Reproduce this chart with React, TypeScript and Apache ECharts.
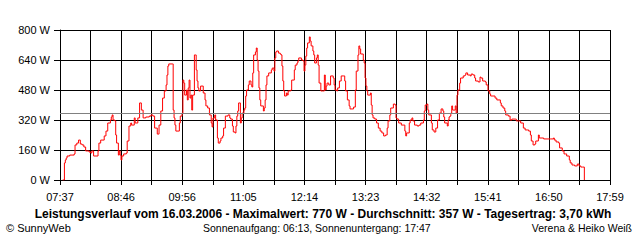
import React, { useEffect, useRef } from "react";
import * as echarts from "echarts";

// Minutes after 07:37
const minutesAfterStart = [
  3, 5, 6, 7, 8, 11, 16, 17, 19, 21, 23, 25, 27, 29, 33, 35, 36, 38, 42, 43,
  44, 46, 50, 52, 54, 57, 58, 59, 60, 62, 63, 64, 66, 67, 68, 69, 70, 72, 75, 76,
  78, 80, 81, 84, 85, 86, 88, 90, 92, 94, 97, 101, 103, 105, 107, 110, 112, 114, 116, 118,
  120, 121, 122, 123, 127, 128, 129, 130, 131, 135, 136, 138, 139, 140, 141, 143, 144, 145, 146, 147,
  148, 149, 150, 152, 153, 154, 155, 156, 157, 159, 162, 164, 165, 167, 169, 171, 172, 173, 175, 176,
  178, 179, 181, 182, 184, 185, 187, 190, 192, 193, 195, 196, 198, 199, 200, 201, 202, 204, 205, 206,
  208, 209, 210, 211, 213, 214, 216, 217, 218, 219, 221, 222, 223, 224, 225, 226, 227, 230, 231, 232,
  233, 234, 236, 239, 240, 242, 243, 244, 245, 247, 249, 250, 251, 252, 253, 254, 256, 257, 258, 260,
  261, 262, 265, 266, 268, 269, 270, 273, 275, 276, 277, 278, 279, 280, 282, 283, 284, 286, 287, 288,
  290, 291, 292, 293, 295, 297, 299, 300, 301, 302, 304, 306, 309, 310, 311, 313, 314, 316, 318, 321,
  322, 323, 325, 327, 328, 332, 334, 335, 337, 338, 339, 340, 343, 344, 345, 346, 347, 348, 351, 352,
  353, 354, 356, 358, 360, 362, 364, 366, 368, 370, 371, 373, 374, 377, 379, 380, 381, 383, 386, 388,
  390, 391, 392, 395, 396, 398, 399, 401, 404, 406, 408, 411, 412, 413, 415, 416, 417, 420, 421, 423,
  425, 427, 429, 431, 433, 434, 435, 438, 439, 440, 441, 442, 443, 444, 447, 448, 449, 450, 452, 453,
  456, 458, 459, 461, 464, 465, 467, 469, 470, 473, 475, 476, 478, 481, 482, 484, 486, 487, 492, 494,
  498, 499, 501, 503, 504, 507, 509, 511, 515, 516, 520, 521, 524, 526, 529, 530, 532, 533, 535, 537,
  538, 541, 542, 544, 547, 553, 555, 558, 559, 561, 564, 565, 568, 570, 572, 573, 576, 577, 579, 581,
  582, 585, 587, 589, 591, 593,
];

const watts = [
  0, 91, 107, 117, 128, 133, 139, 187, 197, 213, 192, 187, 176, 155, 149, 144, 155, 128, 128, 155,
  197, 213, 235, 261, 304, 320, 336, 347, 320, 315, 240, 197, 133, 155, 133, 107, 128, 139, 144, 208,
  288, 304, 293, 331, 304, 304, 331, 411, 373, 331, 336, 341, 347, 341, 277, 245, 293, 368, 437, 475,
  507, 560, 608, 619, 619, 373, 331, 293, 261, 304, 341, 357, 533, 517, 453, 480, 427, 491, 533, 437,
  453, 373, 453, 667, 667, 587, 528, 491, 475, 501, 464, 427, 395, 384, 347, 304, 283, 331, 347, 320,
  224, 197, 208, 224, 235, 277, 341, 347, 331, 325, 288, 256, 251, 288, 341, 368, 411, 304, 331, 357,
  373, 384, 448, 480, 507, 528, 507, 496, 571, 667, 683, 704, 640, 581, 491, 427, 395, 368, 384, 427,
  507, 555, 571, 587, 597, 581, 651, 683, 688, 677, 672, 667, 608, 528, 475, 448, 464, 453, 475, 475,
  480, 533, 587, 613, 624, 635, 651, 640, 635, 581, 613, 661, 704, 731, 763, 741, 715, 688, 667, 624,
  651, 667, 613, 517, 475, 475, 560, 480, 501, 517, 507, 555, 544, 507, 480, 475, 491, 528, 555, 555,
  528, 475, 427, 395, 379, 389, 480, 581, 667, 715, 699, 672, 640, 624, 544, 501, 475, 453, 464, 400,
  347, 331, 325, 304, 277, 261, 251, 235, 240, 277, 315, 347, 384, 405, 400, 331, 325, 304, 293, 293,
  261, 235, 251, 304, 320, 331, 315, 293, 288, 293, 304, 320, 368, 400, 405, 373, 347, 304, 267, 256,
  277, 320, 357, 379, 368, 336, 304, 288, 320, 336, 341, 357, 395, 373, 395, 357, 453, 480, 517, 544,
  555, 560, 571, 560, 555, 565, 560, 544, 528, 523, 549, 544, 528, 523, 507, 475, 459, 448, 437, 427,
  411, 395, 384, 368, 347, 341, 320, 325, 325, 315, 315, 304, 277, 267, 267, 261, 240, 208, 187, 192,
  208, 240, 224, 224, 219, 219, 219, 224, 213, 203, 197, 171, 155, 139, 139, 128, 107, 91, 80, 80,
  75, 85, 75, 69, 69, 0,
];

const timeLabels = ["07:37", "08:46", "09:56", "11:05", "12:14", "13:23", "14:32", "15:41", "16:50", "17:59"];
const yTicks = [0, 160, 320, 480, 640, 800];
const averageW = [357];
const spanMinutes = 622;

const titleText =
  "Leistungsverlauf vom 16.03.2006 - Maximalwert: 770 W - Durchschnitt: 357 W - Tagesertrag: 3,70 kWh";
const footerLeft = "© SunnyWeb";
const footerMid = "Sonnenaufgang: 06:13, Sonnenuntergang: 17:47";
const footerRight = "Verena & Heiko Weiß";

const FONT = "'Liberation Sans', Arial, sans-serif";

export default function App() {
  const ref = useRef<HTMLDivElement>(null);
  useEffect(() => {
    document.body.style.margin = "0";
    if (!ref.current) return;
    const chart = echarts.init(ref.current, null, { renderer: "svg" });
    const step = spanMinutes / ((timeLabels.length - 1) * 2);
    const data = minutesAfterStart.map((m, i) => [m, watts[i]]);
    chart.setOption({
      animation: false,
      backgroundColor: "#ffffff",
      grid: { left: 60, right: 30, top: 30, bottom: 60, containLabel: false },
      xAxis: {
        type: "value",
        min: 0,
        max: spanMinutes,
        interval: step,
        axisLine: { show: true, lineStyle: { color: "#000", width: 1 } },
        axisTick: { show: true, length: 5, lineStyle: { color: "#000", width: 1 } },
        splitLine: { show: true, lineStyle: { color: "#000", width: 1 } },
        axisLabel: {
          color: "#000",
          fontFamily: FONT,
          fontSize: 11,
          margin: 11,
          showMinLabel: true,
          showMaxLabel: true,
          formatter: (v: number) => {
            const idx = Math.round(v / step);
            return idx % 2 === 0 ? timeLabels[idx / 2] ?? "" : "";
          },
        },
      },
      yAxis: {
        type: "value",
        min: yTicks[0],
        max: yTicks[yTicks.length - 1],
        interval: yTicks[1] - yTicks[0],
        axisLine: { show: true, lineStyle: { color: "#000", width: 1 } },
        axisTick: { show: true, length: 6, lineStyle: { color: "#000", width: 1 } },
        splitLine: { show: true, lineStyle: { color: "#000", width: 1 } },
        axisLabel: {
          color: "#000",
          fontFamily: FONT,
          fontSize: 11,
          margin: 10,
          formatter: (v: number) => `${v} W`,
        },
      },
      series: [
        {
          type: "line",
          data,
          step: "end",
          symbol: "none",
          lineStyle: { color: "#ff0000", width: 1 },
          z: 3,
          markLine: {
            silent: true,
            symbol: "none",
            label: { show: false },
            lineStyle: { color: "#808080", width: 1, type: "solid" },
            data: averageW.map((v) => ({ yAxis: v })),
          },
        },
      ],
      graphic: [
        {
          type: "text",
          x: 323,
          y: 214,
          style: {
            text: titleText,
            fill: "#000",
            font: `bold 12px ${FONT}`,
            lineHeight: 12,
            textAlign: "center",
            textVerticalAlign: "middle",
          },
        },
        {
          type: "text",
          x: 6,
          y: 228,
          style: { text: footerLeft, fill: "#000", font: `11px ${FONT}`, lineHeight: 11, textAlign: "left", textVerticalAlign: "middle" },
        },
        {
          type: "text",
          x: 203,
          y: 228,
          style: { text: footerMid, fill: "#000", font: `10.5px ${FONT}`, lineHeight: 11, textAlign: "left", textVerticalAlign: "middle" },
        },
        {
          type: "text",
          x: 632,
          y: 228,
          style: { text: footerRight, fill: "#000", font: `10.5px ${FONT}`, lineHeight: 11, textAlign: "right", textVerticalAlign: "middle" },
        },
      ],
    });
    return () => chart.dispose();
  }, []);
  return <div ref={ref} style={{ width: 640, height: 240 }} />;
}
